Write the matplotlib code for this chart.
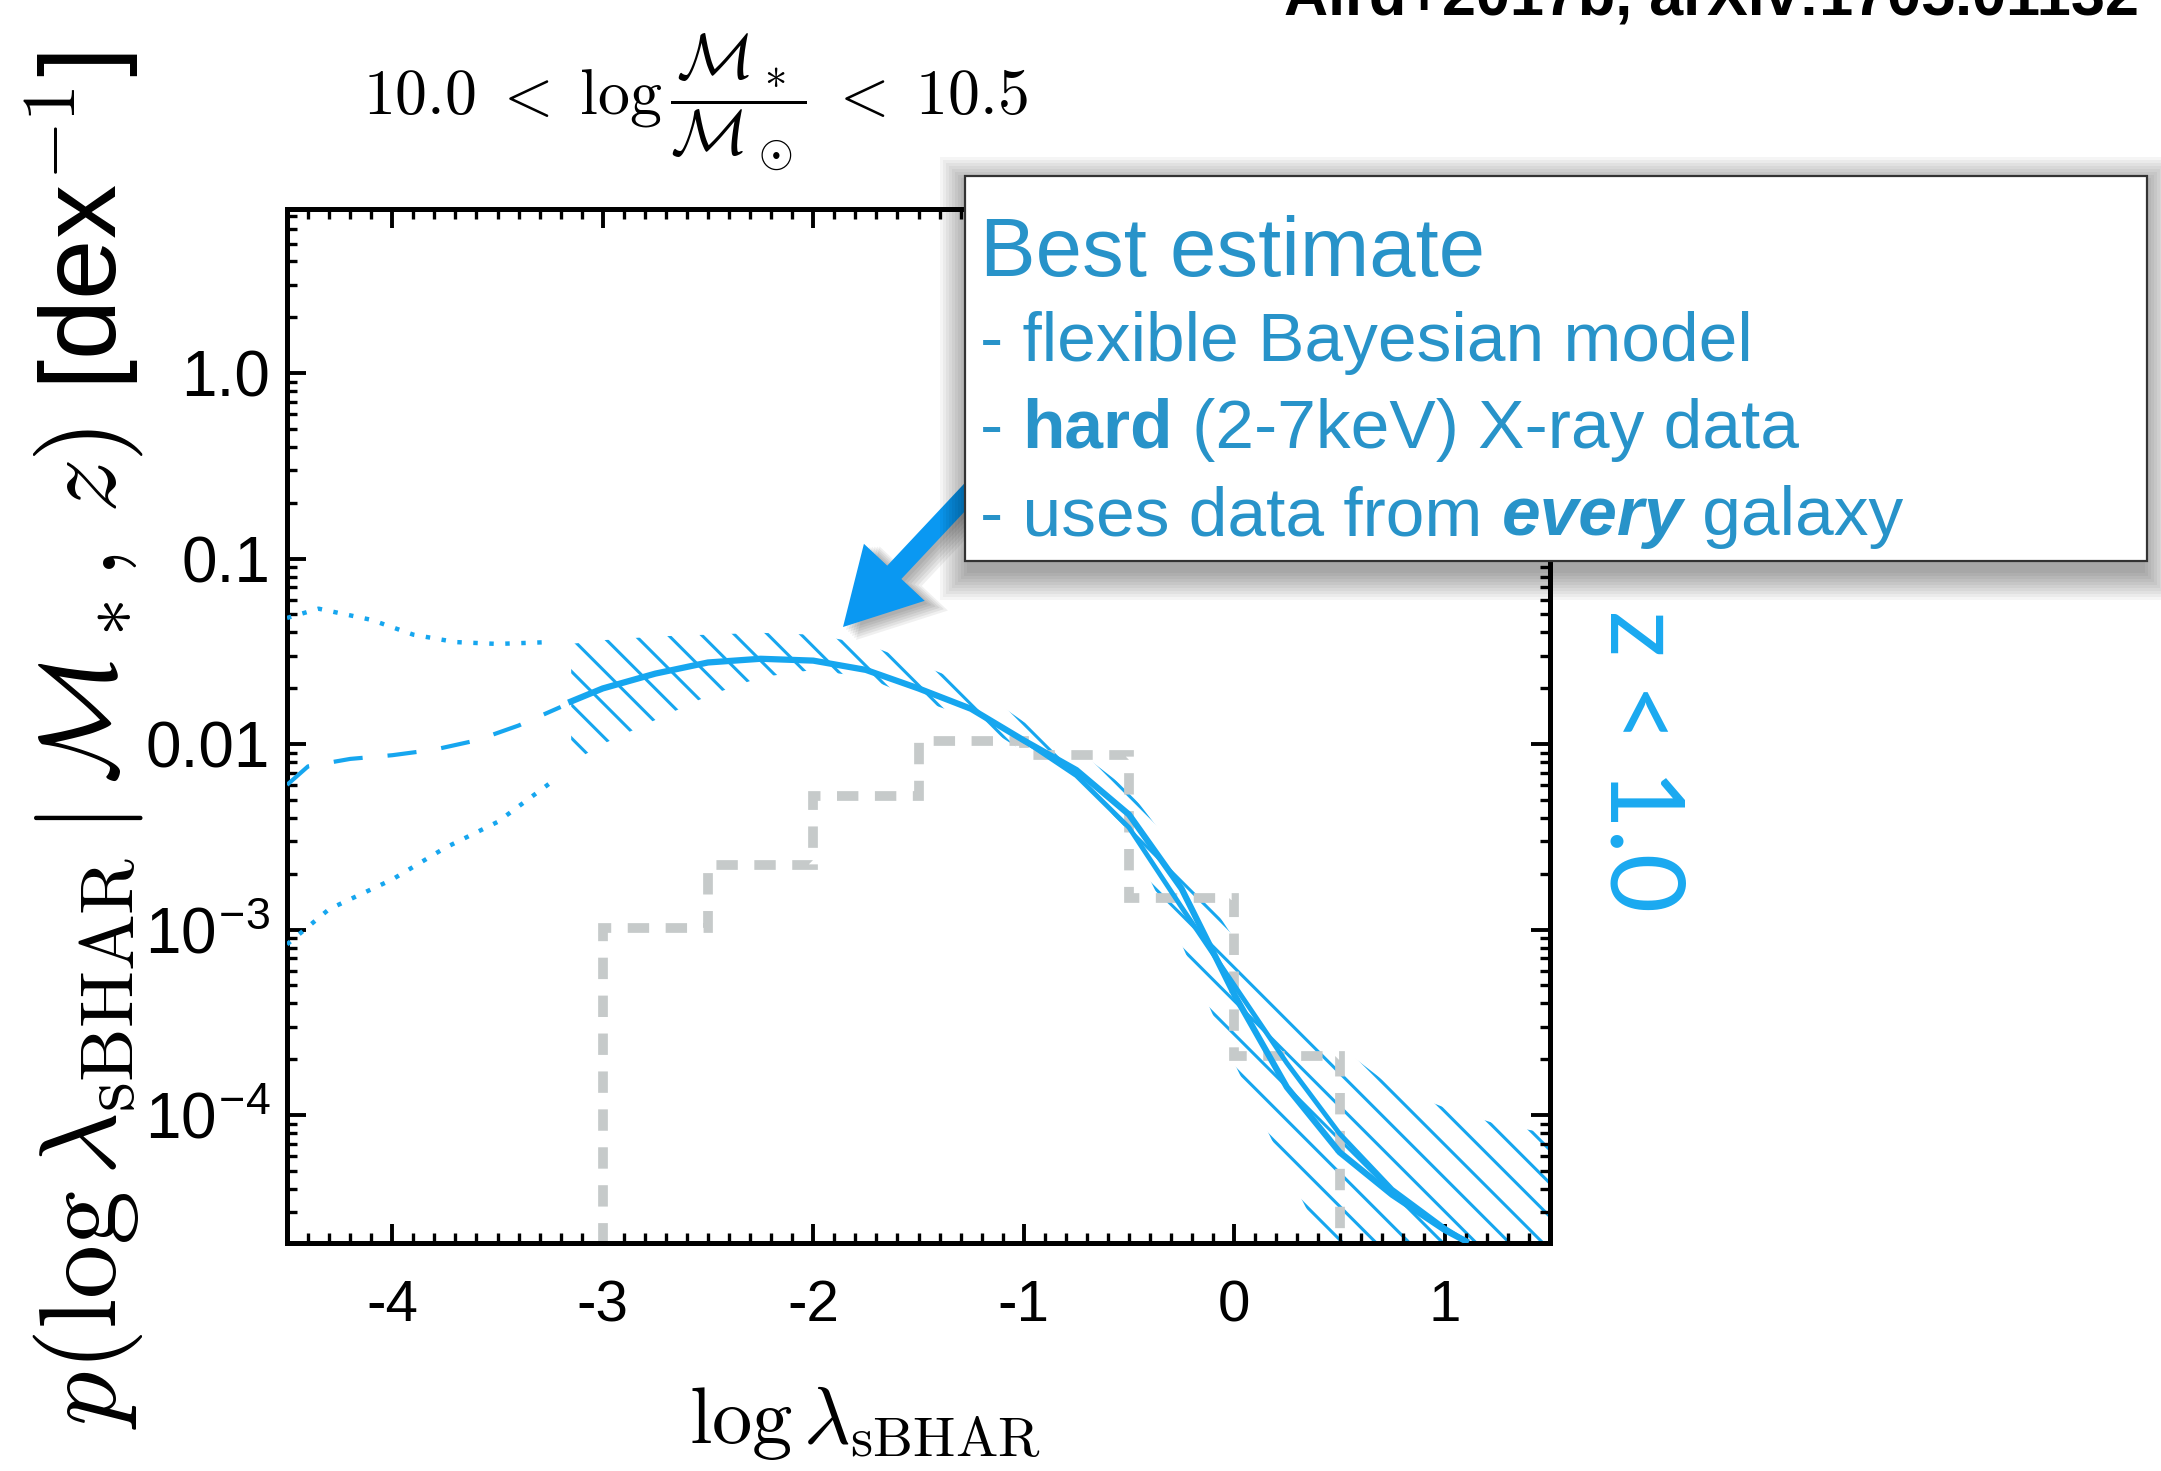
import numpy as np
import matplotlib.pyplot as plt
import matplotlib.patches as mpatches
from matplotlib.ticker import FixedLocator, FixedFormatter, MultipleLocator, LogLocator, NullFormatter

plt.rcParams['mathtext.fontset'] = 'cm'
plt.rcParams['hatch.linewidth'] = 2.2

W, H = 2161, 1471

# --- data (log10 of p) ---
x_main = [-3.15, -3.0, -2.75, -2.5, -2.25, -2.0, -1.75, -1.5, -1.25, -1.0, -0.75, -0.5,
          -0.25, 0.0, 0.25, 0.5, 0.75, 1.0, 1.1]
log_main = [-1.77, -1.70, -1.62, -1.56, -1.54, -1.55, -1.60, -1.70, -1.81, -1.98, -2.14, -2.38,
            -2.78, -3.35, -3.85, -4.20, -4.43, -4.62, -4.68]

x_alt = [-1.0, -0.75, -0.5, -0.25, 0.0, 0.25, 0.5, 0.75, 1.0, 1.1]
log_alt = [-1.98, -2.17, -2.45, -2.88, -3.30, -3.72, -4.10, -4.40, -4.61, -4.68]

x_band = [-3.15, -3.0, -2.75, -2.5, -2.25, -2.0, -1.75, -1.5, -1.25, -1.0, -0.75, -0.5,
          -0.25, 0.0, 0.25, 0.5, 0.75, 1.0, 1.25, 1.5]
log_upper = [-1.46, -1.44, -1.42, -1.41, -1.40, -1.41, -1.46, -1.57, -1.68, -1.88, -2.03, -2.25,
             -2.62, -3.05, -3.40, -3.63, -3.85, -3.96, -4.05, -4.10]
log_lower = [-2.10, -2.00, -1.87, -1.74, -1.64, -1.60, -1.64, -1.76, -1.86, -2.04, -2.12, -2.50,
             -3.08, -3.72, -4.30, -4.85, -5.0, -5.0, -5.0, -5.0]

x_ext = [-4.5, -4.4, -4.2, -4.0, -3.8, -3.6, -3.4, -3.2]
log_ext = [-2.22, -2.12, -2.08, -2.06, -2.03, -1.98, -1.90, -1.80]

x_ext_hi = [-4.5, -4.35, -4.1, -3.9, -3.7, -3.5, -3.25]
log_ext_hi = [-1.32, -1.27, -1.33, -1.41, -1.45, -1.46, -1.45]
x_ext_lo = [-4.5, -4.3, -4.0, -3.75, -3.5, -3.25]
log_ext_lo = [-3.08, -2.89, -2.73, -2.56, -2.42, -2.21]

hist_edges = [-3.0, -2.5, -2.0, -1.5, -1.0, -0.5, 0.0, 0.5]
hist_log = [-2.99, -2.65, -2.28, -1.985, -2.06, -2.83, -3.68]

ytick_vals = [1.0, 0.1, 0.01, 1e-3, 1e-4]
ytick_labels = ['1.0', '0.1', '0.01', r'10$^{\mathregular{-3}}$', r'10$^{\mathregular{-4}}$']
xtick_vals = [-4, -3, -2, -1, 0, 1]
xtick_labels = ['-4', '-3', '-2', '-1', '0', '1']


def fx(px):
    return px / W


def fy(py):
    return 1 - py / H


blue = '#16a6ef'
txtblue = '#2893c9'

fig = plt.figure(figsize=(W / 100, H / 100), dpi=100)
ax = fig.add_axes([fx(287), fy(1243), (1550 - 287) / W, (1243 - 209) / H])

ax.fill_between(x_band, 10 ** np.array(log_lower), 10 ** np.array(log_upper),
                facecolor='none', edgecolor=blue, linewidth=0, hatch='\\', zorder=1)
ax.stairs(10 ** np.array(hist_log), hist_edges, baseline=1e-7, color='#c6caca',
          lw=7, linestyle=(0, (2.2, 1.7)), zorder=2)
ax.plot(x_main, 10 ** np.array(log_main), color=blue, lw=4.5, zorder=3)
ax.plot(x_alt, 10 ** np.array(log_alt), color=blue, lw=3.5, zorder=3)
ax.plot(x_ext, 10 ** np.array(log_ext), color=blue, lw=3, linestyle=(0, (7, 6)), zorder=3)
ax.plot(x_ext_hi, 10 ** np.array(log_ext_hi), color=blue, lw=3.2, linestyle=(0, (1, 2.6)), zorder=3)
ax.plot(x_ext_lo, 10 ** np.array(log_ext_lo), color=blue, lw=3.2, linestyle=(0, (1, 2.6)), zorder=3)

ax.set_yscale('log')
ax.set_xlim(-4.5, 1.5)
ax.set_ylim(10 ** -4.69, 10 ** 0.885)

ax.xaxis.set_major_locator(FixedLocator(xtick_vals))
ax.xaxis.set_major_formatter(FixedFormatter(xtick_labels))
ax.xaxis.set_minor_locator(MultipleLocator(0.1))
ax.yaxis.set_major_locator(FixedLocator(ytick_vals))
ax.yaxis.set_major_formatter(FixedFormatter(ytick_labels))
ax.yaxis.set_minor_locator(LogLocator(base=10, subs=np.arange(2, 10)))
ax.yaxis.set_minor_formatter(NullFormatter())

for s in ax.spines.values():
    s.set_linewidth(3.6)
ax.tick_params(which='both', direction='in', top=True, right=True)
ax.tick_params(which='major', length=14, width=2.8)
ax.tick_params(which='minor', length=7.5, width=2.4)
ax.tick_params(axis='x', which='major', pad=26, labelsize=42)
ax.tick_params(axis='y', which='major', pad=12, labelsize=46)
for lab in ax.get_xticklabels() + ax.get_yticklabels():
    lab.set_family('Liberation Sans')

# --- labels ---
fig.text(fx(84), fy(740), r'$p(\log\lambda_{\rm sBHAR}\mid\mathcal{M}_*,\,z)$ [dex$^{-1}$]',
         rotation=90, ha='center', va='center', fontsize=78, family='Liberation Sans')
fig.text(fx(865), fy(1462), r'$\log\lambda_{\rm sBHAR}$', ha='center', va='bottom', fontsize=58)
fig.text(fx(696), fy(103), r'$10.0\;<\;\log\dfrac{\mathcal{M}_*}{\mathcal{M}_\odot}\;<\;10.5$',
         ha='center', va='center', fontsize=46)
fig.text(fx(2139), fy(15), 'Aird+2017b, arXiv:1705.01132', ha='right', va='baseline',
         fontsize=44, fontweight='bold', family='Liberation Sans')
fig.text(fx(1640), fy(610), 'z < 1.0', rotation=-90, ha='center', va='top', fontsize=74,
         color='#1aa9f0', family='Lato')

# --- arrow with soft shadow ---
tail = (fx(995), fy(465))
tip = (fx(843), fy(627))
style = 'simple,head_length=1.35,head_width=1.5,tail_width=0.35'
for k in range(6):
    off = 3 + k * 2
    sh = mpatches.FancyArrowPatch((tail[0] + fx(off), tail[1] - off / H), (tip[0] + fx(off), tip[1] - off / H),
                                  transform=fig.transFigure, arrowstyle=style, mutation_scale=40 + k,
                                  shrinkA=0, shrinkB=0, color='black', alpha=0.06, lw=0, zorder=4)
    fig.add_artist(sh)
arrow = mpatches.FancyArrowPatch(tail, tip, transform=fig.transFigure, arrowstyle=style,
                                 mutation_scale=40, shrinkA=0, shrinkB=0, color='#0a98f2', lw=0, zorder=5)
fig.add_artist(arrow)

# --- annotation box with shadow ---
bx0, bx1, by0, by1 = 965, 2147, 176, 561
for k in range(10):
    g = 2 + k * 3
    fig.add_artist(mpatches.Rectangle((fx(bx0 - g + 4), fy(by1 + 10 + g)), (bx1 - bx0 + 2 * g - 8) / W,
                                      (by1 - by0 + 2 * g) / H, transform=fig.transFigure,
                                      facecolor='black', edgecolor='none', alpha=0.04, zorder=6))
fig.add_artist(mpatches.Rectangle((fx(bx0), fy(by1)), (bx1 - bx0) / W, (by1 - by0) / H,
                                  transform=fig.transFigure, facecolor='white', edgecolor='#333333',
                                  lw=1.6, zorder=7))

renderer = fig.canvas.get_renderer()
fig.text(fx(980), fy(276), 'Best estimate', fontsize=60, color=txtblue, family='Liberation Sans',
         va='baseline', zorder=8)
lines = [
    (361, [('- flexible Bayesian model', 'normal', 'normal')]),
    (448, [('- ', 'normal', 'normal'), ('hard', 'bold', 'normal'), (' (2-7keV) X-ray data', 'normal', 'normal')]),
    (535, [('- uses data from ', 'normal', 'normal'), ('every', 'bold', 'italic'), (' galaxy', 'normal', 'normal')]),
]
for yb, parts in lines:
    xpos = fx(980)
    for txt, wt, st in parts:
        t = fig.text(xpos, fy(yb), txt, fontsize=50, color=txtblue, family='Liberation Sans',
                     fontweight=wt, fontstyle=st, va='baseline', zorder=8)
        bb = t.get_window_extent(renderer)
        xpos += bb.width / W

fig.savefig('out.png', dpi=100)
